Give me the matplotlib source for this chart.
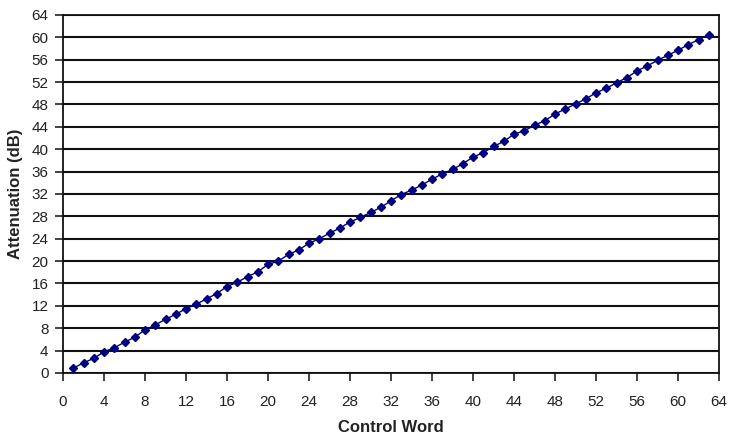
import matplotlib
matplotlib.use("Agg")
import matplotlib.pyplot as plt
import numpy as np

control_word = list(range(1, 64))
attenuation = [0.84, 1.84, 2.6, 3.8, 4.5, 5.5, 6.4, 7.7, 8.6, 9.6,
               10.5, 11.5, 12.3, 13.25, 14.2, 15.45, 16.25, 17.2, 18.1, 19.4,
               20.0, 21.2, 22.0, 23.2, 24.0, 25.0, 25.9, 27.0, 27.8, 28.7,
               29.6, 30.8, 31.9, 32.7, 33.6, 34.65, 35.6, 36.4, 37.4, 38.6,
               39.4, 40.5, 41.4, 42.7, 43.3, 44.3, 45.1, 46.3, 47.2, 48.1,
               49.0, 50.1, 50.9, 51.9, 52.8, 54.0, 54.9, 55.9, 56.8, 57.7,
               58.7, 59.6, 60.5]
x_ticks = list(range(0, 65, 4))
y_ticks = list(range(0, 65, 4))

plt.rcParams['font.family'] = ['Liberation Sans', 'DejaVu Sans']

fig = plt.figure(figsize=(7.3, 4.36), dpi=100)
ax = fig.add_axes([0.0863, 0.1445, 0.8987, 0.8211])

ax.set_xlim(0, 64)
ax.set_ylim(0, 64)
ax.set_xticks(x_ticks)
ax.set_yticks(y_ticks)
ax.tick_params(axis='both', labelsize=11, colors='#222222', length=5.5, width=1.2,
               direction='out')
ax.tick_params(axis='x', pad=10)
ax.tick_params(axis='y', pad=5)
ax.yaxis.grid(True, color='#111111', linewidth=1.5)
ax.set_axisbelow(True)
for s in ax.spines.values():
    s.set_color('#111111')
    s.set_linewidth(1.3)

ax.plot(control_word, attenuation, color='#000080', linewidth=1.0,
        marker='D', markersize=3.8, markerfacecolor='#000080',
        markeredgecolor='#000080', zorder=3)

ax.set_xlabel('Control Word', fontsize=12, fontweight='bold', color='#222222')
ax.set_ylabel('Attenuation (dB)', fontsize=12, fontweight='bold', color='#222222')
ax.xaxis.set_label_coords(0.5, -0.1648)
ax.yaxis.set_label_coords(-0.073, 0.5)
ax.xaxis.label.set_va('baseline')
ax.yaxis.label.set_va('center')

fig.savefig('out.png', dpi=100)
